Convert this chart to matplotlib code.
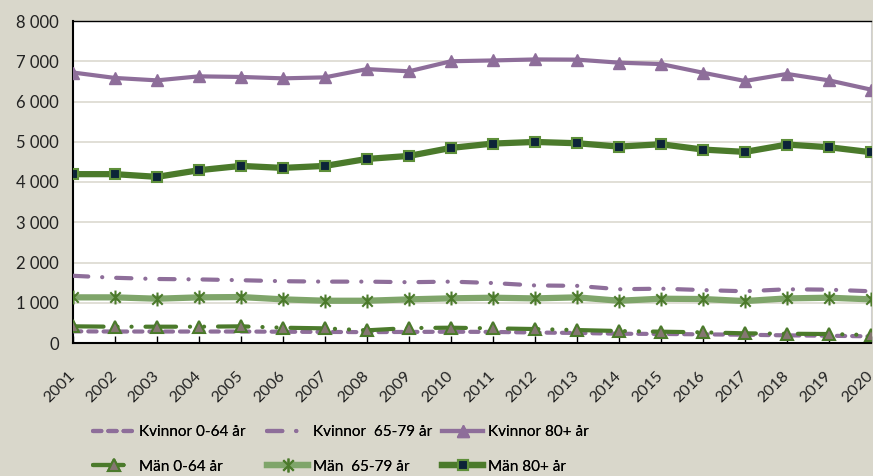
import matplotlib
matplotlib.use("Agg")
import matplotlib.pyplot as plt
from matplotlib.path import Path

plt.rcParams['font.family'] = ['Lato', 'DejaVu Sans']
plt.rcParams['lines.scale_dashes'] = False

years = list(range(2001, 2021))

# values
kvinnor_0_64 = [290, 285, 285, 285, 285, 280, 275, 270, 275, 280,
                275, 260, 250, 230, 225, 215, 205, 190, 180, 165]
kvinnor_65_79 = [1670, 1620, 1590, 1580, 1560, 1535, 1525, 1525, 1510, 1525,
                 1490, 1430, 1420, 1335, 1350, 1315, 1285, 1335, 1325, 1285]
kvinnor_80 = [6720, 6585, 6525, 6625, 6610, 6575, 6600, 6805, 6750, 7000,
              7020, 7045, 7040, 6965, 6930, 6715, 6510, 6685, 6525, 6295]
man_0_64 = [414, 405, 405, 405, 414, 380, 364, 315, 372, 380,
            364, 347, 322, 298, 281, 265, 240, 231, 223, 198]
man_65_79 = [1134, 1134, 1100, 1134, 1142, 1084, 1050, 1050, 1084, 1110,
             1125, 1108, 1134, 1050, 1100, 1092, 1042, 1108, 1125, 1084]
man_80 = [4195, 4195, 4128, 4293, 4400, 4350, 4400, 4573, 4648, 4847,
          4955, 4995, 4963, 4880, 4938, 4806, 4748, 4930, 4864, 4740]

yticks = [0, 1000, 2000, 3000, 4000, 5000, 6000, 7000, 8000]
ytick_labels = ['0', '1 000', '2 000', '3 000', '4 000', '5 000', '6 000', '7 000', '8 000']

bg = '#d9d7cb'
purple = '#8e6e9a'
dgreen = '#4b7a2b'
lgreen = '#7fa56a'

star = Path([(0, -1), (0, 1), (-0.75, -0.75), (0.75, 0.75), (-0.75, 0.75), (0.75, -0.75)],
            [Path.MOVETO, Path.LINETO, Path.MOVETO, Path.LINETO, Path.MOVETO, Path.LINETO])

fig = plt.figure(figsize=(8.73, 4.76), dpi=100, facecolor=bg)
ax = fig.add_axes([73 / 873, 1 - 343 / 476, 798 / 873, 322 / 476])
ax.set_facecolor('white')

k0, = ax.plot(years, kvinnor_0_64, color=purple, lw=3, dashes=(6, 5),
              dash_capstyle='round', label='Kvinnor 0-64 år', zorder=3)
k65, = ax.plot(years, kvinnor_65_79, color=purple, lw=3, dashes=(11, 10, 0.1, 10),
               dash_capstyle='round', label='Kvinnor  65-79 år', zorder=3)
k80, = ax.plot(years, kvinnor_80, color=purple, lw=3, marker='^', ms=9,
               label='Kvinnor 80+ år', zorder=4)
m0, = ax.plot(years, man_0_64, color=dgreen, lw=3, dashes=(22, 10, 0.1, 10, 0.1, 10),
              dash_capstyle='round', marker='^', ms=9, mfc='#857672', mec=dgreen, mew=1.5,
              label='Män 0-64 år', zorder=4)
m65, = ax.plot(years, man_65_79, color=lgreen, lw=4.5, marker=star, ms=10, mec=dgreen,
               mew=1.5, label='Män  65-79 år', zorder=4)
m80, = ax.plot(years, man_80, color=dgreen, lw=4.5, marker='s', ms=7.5, mfc='#0c2338',
               mec='#5e8f3a', mew=1.5, label='Män 80+ år', zorder=4)

ax.set_xlim(2001, 2020)
ax.set_ylim(0, 8000)
ax.set_yticks(yticks)
ax.set_yticklabels(ytick_labels, fontsize=12, color='#222222')
ax.set_xticks(years)
ax.set_xticklabels([str(y) for y in years], rotation=45, ha='right',
                   va='center', rotation_mode='anchor', fontsize=11.5, color='#222222')
ax.tick_params(axis='y', length=0, pad=10)
ax.tick_params(axis='x', direction='in', length=5, width=1, pad=22)
ax.grid(axis='y', color='#dcd9cf', lw=1.2, zorder=0)
ax.set_axisbelow(True)
for s in ['left', 'bottom']:
    ax.spines[s].set_linewidth(1.5)
    ax.spines[s].set_color('black')
ax.spines['top'].set_linewidth(1.0)
ax.spines['right'].set_color('#cfcfcf')

# one legend per column, placed like the original
columns = [(k0, m0, 93), (k65, m65, 267), (k80, m80, 442)]
for top, bottom, xpix in columns:
    leg = fig.legend([top, bottom], [top.get_label(), bottom.get_label()],
                     loc='upper left', bbox_to_anchor=(xpix / 873, 1 - 425 / 476),
                     frameon=False, fontsize=11, handlelength=2.7,
                     handletextpad=0.3, labelspacing=1.35, borderpad=0,
                     borderaxespad=0)
    fig.add_artist(leg)

fig.savefig('out.png', dpi=100, facecolor=bg)
